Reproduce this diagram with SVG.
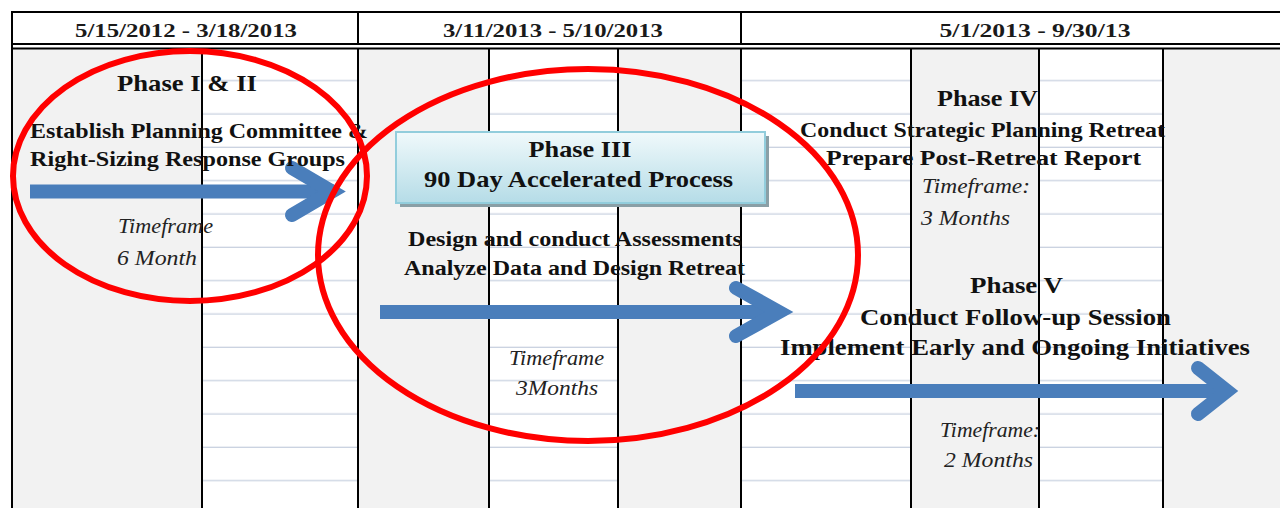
<svg xmlns="http://www.w3.org/2000/svg" width="1280" height="508" viewBox="0 0 1280 508">
<defs>
<pattern id="rows" x="0" y="48" width="20" height="33.333" patternUnits="userSpaceOnUse">
<rect width="20" height="33.333" fill="#ffffff"/>
<rect y="32" width="20" height="3" fill="#cbd3e1"/>
</pattern>
<linearGradient id="boxg" x1="0" y1="0" x2="0" y2="1">
<stop offset="0" stop-color="#f0f9fb"/>
<stop offset="1" stop-color="#b5dce7"/>
</linearGradient>
<style>
.grey{fill:#f2f2f2}
.white{fill:url(#rows)}
.vl{stroke:#000;stroke-width:2}
.hd{font-family:"Liberation Serif",serif;font-weight:bold;font-size:19px;fill:#1a1a1a;text-anchor:middle}
.b{font-family:"Liberation Serif",serif;font-weight:bold;fill:#111;text-anchor:middle}
.i{font-family:"Liberation Serif",serif;font-style:italic;font-size:21px;fill:#222;text-anchor:middle}
.shaft{stroke:#4a7ebb;stroke-width:14;fill:none}
.head{stroke:#4a7ebb;stroke-width:14;fill:none;stroke-linecap:round;stroke-linejoin:miter}
.ring{fill:none;stroke:#ff0000;stroke-width:6}
</style>
</defs>
<rect width="1280" height="508" fill="#ffffff"/>
<g id="table">
<rect class="grey" x="12" y="48" width="190" height="460"/>
<rect class="white" x="202" y="48" width="156" height="460"/>
<rect class="grey" x="358" y="48" width="131" height="460"/>
<rect class="white" x="489" y="48" width="129" height="460"/>
<rect class="grey" x="618" y="48" width="123" height="460"/>
<rect class="white" x="741" y="48" width="170" height="460"/>
<rect class="grey" x="911" y="48" width="128" height="460"/>
<rect class="white" x="1039" y="48" width="124" height="460"/>
<rect class="grey" x="1163" y="48" width="117" height="460"/>
<line class="vl" x1="12" y1="12" x2="1280" y2="12"/>
<line class="vl" x1="12" y1="44" x2="1280" y2="44"/>
<line class="vl" x1="12" y1="48.5" x2="1280" y2="48.5"/>
<line class="vl" x1="12" y1="11" x2="12" y2="508"/>
<line class="vl" x1="358" y1="12" x2="358" y2="44"/>
<line class="vl" x1="741" y1="12" x2="741" y2="44"/>
<line class="vl" x1="202" y1="48" x2="202" y2="508"/>
<line class="vl" x1="358" y1="48" x2="358" y2="508"/>
<line class="vl" x1="489" y1="48" x2="489" y2="508"/>
<line class="vl" x1="618" y1="48" x2="618" y2="508"/>
<line class="vl" x1="741" y1="48" x2="741" y2="508"/>
<line class="vl" x1="911" y1="48" x2="911" y2="508"/>
<line class="vl" x1="1039" y1="48" x2="1039" y2="508"/>
<line class="vl" x1="1163" y1="48" x2="1163" y2="508"/>
<text class="hd" x="186" y="37" textLength="222" lengthAdjust="spacingAndGlyphs">5/15/2012 - 3/18/2013</text>
<text class="hd" x="553" y="37" textLength="220" lengthAdjust="spacingAndGlyphs">3/11/2013 - 5/10/2013</text>
<text class="hd" x="1035" y="37" textLength="191" lengthAdjust="spacingAndGlyphs">5/1/2013 - 9/30/13</text>
</g>
<g id="connectors">
<line class="shaft" x1="30" y1="191.5" x2="334" y2="191.5"/>
<polyline class="head" points="292,168 332,191.5 292,215"/>
<line class="shaft" x1="380" y1="312" x2="780" y2="312"/>
<polyline class="head" points="736,288 779,312 736,336"/>
<line class="shaft" x1="795" y1="391" x2="1227" y2="391"/>
<polyline class="head" points="1198,368 1227,391 1198,414"/>
</g>
<g id="phase12">
<text class="b" x="187" y="91" font-size="23" textLength="140" lengthAdjust="spacingAndGlyphs">Phase I &amp; II</text>
<text class="b" x="199" y="138" font-size="21" textLength="338" lengthAdjust="spacingAndGlyphs">Establish Planning Committee &amp;</text>
<text class="b" x="187.5" y="166" font-size="21" textLength="315" lengthAdjust="spacingAndGlyphs">Right-Sizing Response Groups</text>
<text class="i" x="165.5" y="233" textLength="95" lengthAdjust="spacingAndGlyphs">Timeframe</text>
<text class="i" x="157" y="265" textLength="80" lengthAdjust="spacingAndGlyphs">6 Month</text>
</g>
<g id="phase3">
<rect x="400" y="136" width="369" height="71" fill="#8a9fa6"/>
<rect x="396" y="132" width="369" height="71" fill="url(#boxg)" stroke="#92cddc" stroke-width="2"/>
<text class="b" x="580" y="157" font-size="23" textLength="103" lengthAdjust="spacingAndGlyphs">Phase III</text>
<text class="b" x="578.5" y="187" font-size="23" textLength="309" lengthAdjust="spacingAndGlyphs">90 Day Accelerated Process</text>
<text class="b" x="575" y="246" font-size="21" textLength="334" lengthAdjust="spacingAndGlyphs">Design and conduct Assessments</text>
<text class="b" x="574.5" y="275" font-size="21" textLength="341" lengthAdjust="spacingAndGlyphs">Analyze Data and Design Retreat</text>
<text class="i" x="556.5" y="365" textLength="95" lengthAdjust="spacingAndGlyphs">Timeframe</text>
<text class="i" x="557" y="395" textLength="82" lengthAdjust="spacingAndGlyphs">3Months</text>
</g>
<g id="phase4">
<text class="b" x="987.5" y="106" font-size="23" textLength="101" lengthAdjust="spacingAndGlyphs">Phase IV</text>
<text class="b" x="982.5" y="137" font-size="21" textLength="365" lengthAdjust="spacingAndGlyphs">Conduct Strategic Planning Retreat</text>
<text class="b" x="983.5" y="165" font-size="22" textLength="315" lengthAdjust="spacingAndGlyphs">Prepare Post-Retreat Report</text>
<text class="i" x="976" y="193" textLength="108" lengthAdjust="spacingAndGlyphs">Timeframe:</text>
<text class="i" x="965.5" y="225" textLength="89" lengthAdjust="spacingAndGlyphs">3 Months</text>
</g>
<g id="phase5">
<text class="b" x="1016.5" y="293" font-size="23" textLength="93" lengthAdjust="spacingAndGlyphs">Phase V</text>
<text class="b" x="1015.5" y="325" font-size="23" textLength="311" lengthAdjust="spacingAndGlyphs">Conduct Follow-up Session</text>
<text class="b" x="1015" y="355" font-size="23" textLength="470" lengthAdjust="spacingAndGlyphs">Implement Early and Ongoing Initiatives</text>
<text class="i" x="990" y="437" textLength="100" lengthAdjust="spacingAndGlyphs">Timeframe:</text>
<text class="i" x="988.5" y="467" textLength="89" lengthAdjust="spacingAndGlyphs">2 Months</text>
</g>
<g id="circle1">
<ellipse class="ring" cx="190" cy="176" rx="177" ry="125"/>
</g>
<g id="circle2">
<ellipse class="ring" cx="588" cy="255" rx="270" ry="186"/>
</g>
</svg>
